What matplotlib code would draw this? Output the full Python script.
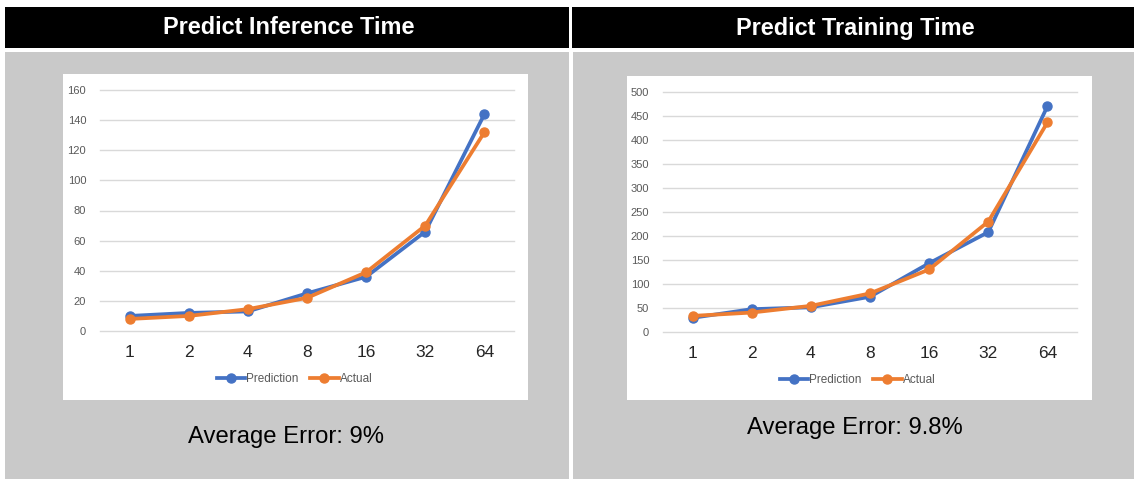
import matplotlib
matplotlib.use("Agg")
import matplotlib.pyplot as plt
from matplotlib.patches import Rectangle
from matplotlib.lines import Line2D

W, H = 1134, 479

# ---- data ----
batch_sizes = ["1", "2", "4", "8", "16", "32", "64"]
inference_pred = [10, 12, 13, 25, 36, 66, 144]
inference_actual = [8, 10, 14.5, 22, 39, 70, 132]
training_pred = [29, 47, 51, 73, 143, 208, 471]
training_actual = [33, 40, 54, 80, 130, 230, 437]

panel_titles = ["Predict Inference Time", "Predict Training Time"]
error_labels = ["Average Error: 9%", "Average Error: 9.8%"]
series_names = ["Prediction", "Actual"]

BLUE = "#4472C4"
ORANGE = "#ED7D31"
PANEL_GRAY = "#C9C9C9"
GRID = "#D9D9D9"
TICK_GRAY = "#595959"

plt.rcParams["font.family"] = ["Liberation Sans", "DejaVu Sans"]

fig = plt.figure(figsize=(W / 100, H / 100), dpi=100)
fig.patch.set_facecolor("white")


def frac_box(x0, y0, x1, y1):
    """Pixel box (top-left origin) -> figure-fraction [left, bottom, width, height]."""
    return [x0 / W, 1 - y1 / H, (x1 - x0) / W, (y1 - y0) / H]


def add_rect(x0, y0, x1, y1, color):
    l, b, w, h = frac_box(x0, y0, x1, y1)
    fig.patches.append(Rectangle((l, b), w, h, transform=fig.transFigure,
                                 facecolor=color, edgecolor="none", zorder=-10))


# panel frames: black header bars, gray bodies, white chart cards
headers = [(5, 7, 569, 48), (572, 7, 1134, 48)]
bodies = [(5, 52, 569, 479), (573, 52, 1134, 479)]
cards = [(63, 74, 528, 400), (627, 76, 1092, 400)]
for box in headers:
    add_rect(*box, "black")
for box in bodies:
    add_rect(*box, PANEL_GRAY)
for box in cards:
    add_rect(*box, "white")

title_x = [289, 855]
for tx, title in zip(title_x, panel_titles):
    fig.text(tx / W, 1 - 28 / H, title, color="white", fontsize=16.9,
             fontweight="bold", ha="center", va="center")

err_pos = [(286, 437), (855, 428)]
for (ex, ey), label in zip(err_pos, error_labels):
    fig.text(ex / W, 1 - ey / H, label, color="black", fontsize=17.2,
             ha="center", va="center")

# plot areas (gridline extents)
plot_boxes = [(100, 90, 514, 331), (663, 92.3, 1077, 331.7)]
ylims = [(0, 160, 20), (0, 500, 50)]
series = [(inference_pred, inference_actual), (training_pred, training_actual)]

LW, MS = 2.7, 6.5
xs = list(range(len(batch_sizes)))
for box, (ymin, ymax, step), (pred, actual) in zip(plot_boxes, ylims, series):
    ax = fig.add_axes(frac_box(*box), zorder=5)
    ax.set_facecolor("none")
    ax.plot(xs, pred, color=BLUE, lw=LW, marker="o", ms=MS,
            solid_joinstyle="round", zorder=3, clip_on=False)
    ax.plot(xs, actual, color=ORANGE, lw=LW, marker="o", ms=MS,
            solid_joinstyle="round", zorder=4, clip_on=False)
    ax.set_xlim(-0.5, len(batch_sizes) - 0.5)
    ax.set_ylim(ymin, ymax)
    ax.set_yticks(range(ymin, ymax + 1, step))
    ax.set_xticks(xs)
    ax.set_xticklabels(batch_sizes)
    ax.yaxis.grid(True, color=GRID, lw=1)
    for gl in ax.get_ygridlines():
        gl.set_clip_on(False)
    ax.set_axisbelow(True)
    for sp in ax.spines.values():
        sp.set_visible(False)
    ax.tick_params(axis="y", length=0, pad=10, labelsize=8, labelcolor=TICK_GRAY)
    ax.tick_params(axis="x", length=0, pad=10, labelsize=12.5, labelcolor="#262626")

    handles = [Line2D([], [], color=BLUE, lw=LW, marker="o", ms=MS),
               Line2D([], [], color=ORANGE, lw=LW, marker="o", ms=MS)]
    leg = ax.legend(handles, series_names, loc="center",
                    bbox_to_anchor=(0.47, (331 - 379) / (box[3] - box[1])),
                    ncol=2, frameon=False, fontsize=8.5, handlelength=2.4,
                    handletextpad=0.1, columnspacing=1.0, borderpad=0)
    for t in leg.get_texts():
        t.set_color(TICK_GRAY)

fig.savefig("out.png", dpi=100, facecolor="white")
